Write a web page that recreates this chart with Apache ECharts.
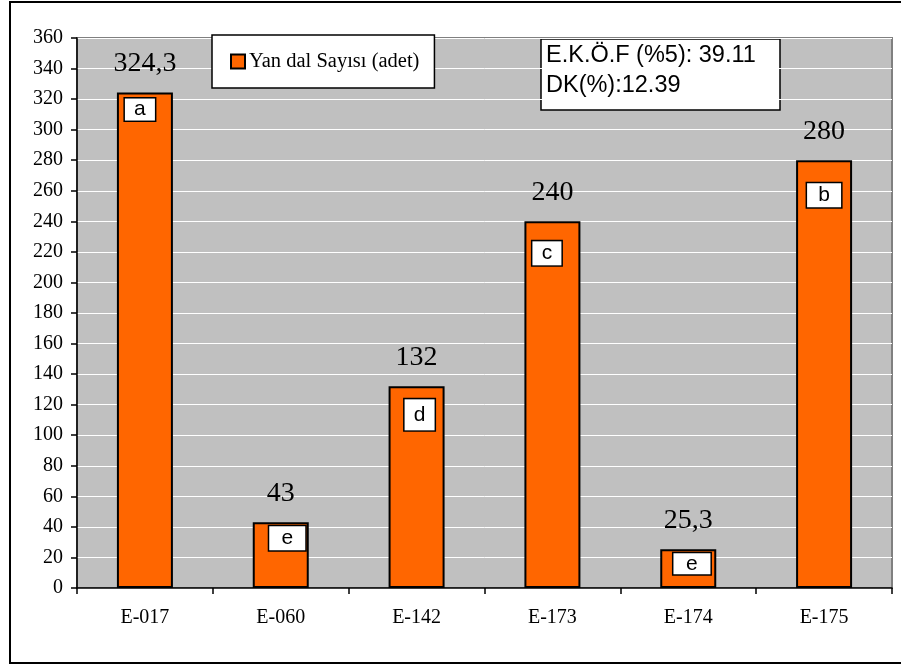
<!DOCTYPE html>
<html>
<head>
<meta charset="utf-8">
<script src="https://cdn.jsdelivr.net/npm/echarts@6/dist/echarts.min.js"></script>
<style>
  html, body { margin: 0; padding: 0; background: #ffffff; }
  #chart { width: 901px; height: 666px; }
</style>
</head>
<body>
<div id="chart"></div>
<script>
// Genotypes and their side-branch counts
const categories = ['E-017', 'E-060', 'E-142', 'E-173', 'E-174', 'E-175'];
const branchCounts = [324.3, 43, 132, 240, 25.3, 280];
// Significance group letters for each genotype
const groupLetters = ['a', 'e', 'd', 'c', 'e', 'b'];
const yTicks = { min: 0, max: 360, interval: 20 };
const seriesName = 'Yan dal Sayısı (adet)';
const statLines = ['E.K.Ö.F (%5): 39.11', 'DK(%):12.39'];

// Placement of each letter box inside its bar: [dx, dy, width, height]
const letterBoxes = [
  [-5, 6, 33, 25],
  [6.5, 4, 39, 27],
  [3, 13, 33, 34],
  [-5.5, 20, 32, 27],
  [3.7, 4, 40, 24],
  [0, 23, 37, 27]
];

const serif = '"Liberation Serif", "Times New Roman", serif';
const sans = '"Liberation Sans", Arial, sans-serif';

const barData = branchCounts.map((v, i) => {
  const b = letterBoxes[i];
  return {
    value: v,
    label: {
      show: true,
      position: 'insideTop',
      distance: 0,
      offset: [b[0], b[1]],
      formatter: groupLetters[i],
      width: b[2] - 3,
      height: b[3] - 3,
      lineHeight: b[3] - 3,
      align: 'center',
      verticalAlign: 'top',
      fontFamily: sans,
      fontSize: 21,
      color: '#000',
      backgroundColor: '#ffffff',
      borderColor: '#000000',
      borderWidth: 1.5,
      padding: 0
    }
  };
});

const chart = echarts.init(document.getElementById('chart'), null, { renderer: 'canvas' });

chart.setOption({
  animation: false,
  backgroundColor: '#ffffff',
  grid: {
    left: 77, top: 38, right: 9, bottom: 78,
    show: true,
    backgroundColor: '#C0C0C0',
    borderColor: '#808080',
    borderWidth: 2
  },
  legend: {
    data: [seriesName],
    left: 212,
    top: 35,
    orient: 'horizontal',
    backgroundColor: '#ffffff',
    borderColor: '#000000',
    borderWidth: 1.5,
    borderRadius: 0,
    padding: [16, 15, 16, 18],
    itemWidth: 14,
    itemHeight: 14,
    icon: 'rect',
    itemStyle: { color: '#FF6600', borderColor: '#000', borderWidth: 2 },
    textStyle: { fontFamily: serif, fontSize: 20.5, color: '#000', padding: [0, 0, 0, -1] }
  },
  xAxis: {
    type: 'category',
    data: categories,
    boundaryGap: true,
    axisLine: { show: true, lineStyle: { color: '#000', width: 1.5 } },
    axisTick: { show: true, length: 6, inside: false, alignWithLabel: false, lineStyle: { color: '#000', width: 1.5 } },
    axisLabel: { fontFamily: serif, fontSize: 20, color: '#000', margin: 20 },
    splitLine: { show: false }
  },
  yAxis: {
    type: 'value',
    min: yTicks.min,
    max: yTicks.max,
    interval: yTicks.interval,
    axisLine: { show: true, lineStyle: { color: '#000', width: 1.5 } },
    axisTick: { show: true, length: 6, lineStyle: { color: '#000', width: 1.5 } },
    axisLabel: { fontFamily: serif, fontSize: 20, color: '#000', margin: 14 },
    splitLine: { show: true, lineStyle: { color: '#ffffff', width: 1 } }
  },
  series: [
    {
      name: seriesName,
      type: 'bar',
      barWidth: 56,
      barGap: '-100%',
      data: barData,
      itemStyle: { color: '#FF6600', borderColor: '#000000', borderWidth: 2 },
      z: 2
    },
    {
      // value labels above each bar
      name: 'values',
      type: 'bar',
      barWidth: 56,
      barGap: '-100%',
      data: branchCounts,
      itemStyle: { color: 'rgba(0,0,0,0)' },
      label: {
        show: true,
        position: 'top',
        distance: 15,
        fontFamily: serif,
        fontSize: 28,
        color: '#000',
        formatter: p => String(p.value).replace('.', ',')
      },
      silent: true,
      z: 3
    }
  ],
  graphic: [
    {
      type: 'rect',
      silent: true,
      z: 50,
      shape: { x: 10, y: 2, width: 1000, height: 661 },
      style: { fill: 'none', stroke: '#000000', lineWidth: 2 }
    },
    {
      type: 'group',
      z: 100,
      children: [
        {
          type: 'rect',
          shape: { x: 541, y: 39, width: 239, height: 71 },
          style: { fill: '#ffffff', stroke: '#000000', lineWidth: 1.5 }
        },
        {
          type: 'text',
          x: 546, y: 55.5,
          style: { text: statLines[0], font: '23.5px ' + sans, fill: '#000', textVerticalAlign: 'middle', verticalAlign: 'middle' }
        },
        {
          type: 'text',
          x: 546, y: 85.5,
          style: { text: statLines[1], font: '23.5px ' + sans, fill: '#000', textVerticalAlign: 'middle', verticalAlign: 'middle' }
        }
      ]
    }
  ]
});
</script>
</body>
</html>
